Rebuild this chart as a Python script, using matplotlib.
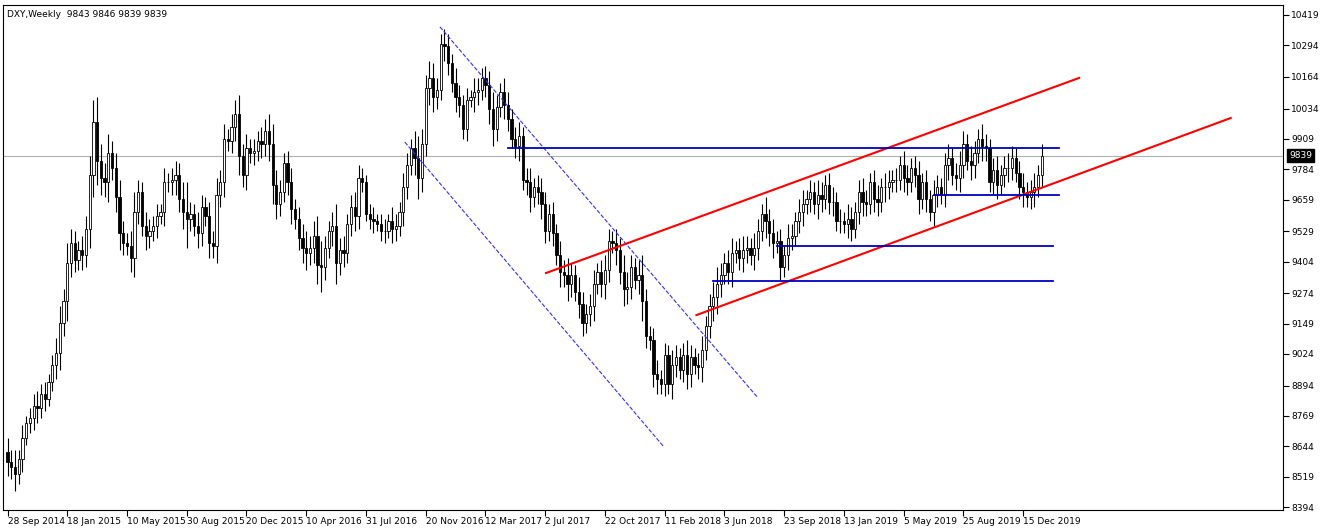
import numpy as np
import pandas as pd
import matplotlib.pyplot as plt
from matplotlib.ticker import FixedLocator, FuncFormatter

# weekly closes, DXY, starting week of 28 Sep 2014
closes = [
    85.8, 85.6, 85.3, 85.9, 86.8, 87.4, 87.6, 88.1, 88.0, 88.6, 88.4, 89.1, 89.8, 90.3,
    91.5, 92.4, 94.0, 94.8, 94.1, 94.5, 94.3, 95.4, 97.6, 99.8, 98.2, 97.5, 97.3,
    98.5, 97.9, 96.7, 95.2, 94.8, 94.7, 94.2, 96.1, 96.9, 95.5, 95.1, 95.3, 95.5,
    95.9, 96.1, 97.3, 97.3, 97.4, 97.6, 96.6, 96.1, 95.8, 96.0, 95.5, 95.2, 96.3,
    95.9, 94.8, 94.7, 96.8, 97.3, 99.1, 99.0, 99.6, 100.1, 98.4, 97.6, 98.7, 98.5,
    98.6, 99.0, 98.9, 99.4, 98.9, 97.2, 96.4, 96.9, 98.1, 97.3, 96.2, 95.8, 95.0,
    94.6, 94.4, 94.6, 95.1, 93.9, 93.8, 94.6, 95.3, 95.5, 94.0, 94.5, 94.4, 95.6,
    96.3, 95.9, 97.5, 97.3, 96.0, 95.8, 95.7, 95.6, 95.3, 95.3, 95.7, 95.4, 95.5,
    96.1, 97.1, 98.0, 98.7, 98.3, 97.5, 98.9, 101.2, 101.6, 100.8, 101.1, 103.0, 102.9,
    102.2, 101.4, 100.8, 100.5, 99.5, 100.7, 100.8, 101.0, 101.1, 101.6, 101.3, 100.3, 99.5,
    100.4, 101.0, 100.5, 99.9, 99.1, 98.8, 99.2, 97.4, 97.3, 96.7, 97.1, 96.9, 96.4,
    95.3, 96.0, 95.2, 94.3, 93.6, 93.5, 93.1, 93.5, 92.8, 92.3, 91.5, 91.9, 92.2,
    93.1, 93.6, 93.1, 93.7, 94.9, 94.8, 94.5, 93.6, 92.9, 93.0, 93.8, 93.3, 93.5,
    92.4, 91.0, 90.8, 89.4, 89.2, 89.0, 90.2, 89.0, 89.8, 90.1, 89.6, 90.2, 89.4,
    90.1, 89.8, 89.7, 90.4, 91.4, 92.2, 92.6, 93.1, 93.5, 94.0, 93.6, 94.4, 94.5,
    94.2, 94.5, 94.6, 94.3, 94.6, 95.3, 96.0, 95.7, 95.2, 94.8, 94.9, 93.8, 94.3,
    95.0, 95.1, 95.7, 96.1, 96.4, 96.6, 96.9, 96.4, 96.8, 96.6, 97.2, 96.5, 96.5,
    95.7, 95.7, 95.6, 95.8, 95.4, 96.1, 96.9, 96.5, 96.4, 97.3, 96.6, 96.5, 97.1, 97.1,
    97.3, 97.4, 97.4, 98.0, 97.5, 97.3, 97.9, 97.6, 96.6, 97.3, 96.6, 96.1,
    96.8, 97.1, 96.8, 98.0, 98.3, 97.6, 97.5, 98.0, 98.9, 98.2, 98.0, 98.5, 99.1,
    98.8, 98.7, 97.3, 97.8, 97.2, 97.6, 97.9, 97.9, 98.3, 97.7, 97.1, 96.9, 96.7,
    96.9, 97.1, 97.6, 98.39,
]
first_open = 86.2

# wick length per week, in tenths of a point
wicks = [
    6, 5, 7, 4, 5, 3, 4, 5, 6, 4, 5, 3, 4, 6, 7, 5, 8, 6, 5, 4, 6, 5, 8, 9, 10,
    7, 6, 8, 5, 6, 7, 5, 4, 6, 8, 5, 4, 6, 5, 4, 5, 3, 6, 4, 5, 6, 5, 7, 12, 5,
    4, 6, 5, 4, 6, 5, 7, 5, 6, 4, 5, 6, 8, 5, 6, 4, 5, 4, 6, 5, 7, 8, 6, 5, 4,
    5, 6, 4, 5, 6, 7, 5, 6, 8, 10, 5, 4, 6, 9, 5, 6, 4, 5, 6, 5, 4, 3, 4, 5, 3,
    4, 5, 3, 6, 5, 4, 6, 5, 4, 7, 9, 6, 5, 7, 6, 5, 4, 6, 5, 4, 6, 5, 4, 5, 3,
    6, 5, 4, 5, 6, 7, 5, 4, 6, 5, 4, 5, 6, 4, 5, 6, 4, 5, 6, 5, 4, 5, 4, 6, 5,
    7, 5, 4, 6, 5, 4, 5, 6, 4, 5, 6, 5, 4, 6, 5, 7, 6, 5, 4, 6, 8, 5, 4, 5, 6,
    4, 5, 4, 6, 5, 4, 5, 6, 5, 4, 5, 6, 4, 5, 6, 7, 5, 4, 5, 6, 4, 5, 6, 5, 4,
    6, 5, 4, 7, 5, 6, 4, 5, 4, 6, 5, 4, 5, 6, 4, 5, 4, 6, 5, 4, 5, 6, 4, 5, 4,
    6, 5, 4, 5, 6, 5, 4, 5, 6, 4, 6, 5, 4, 5, 4, 6, 5, 4, 5, 6, 4, 5, 4, 6, 5,
    4, 5, 6, 4, 5, 6, 5, 4, 6, 5, 4, 6, 5, 4, 5, 6, 4, 5, 6, 5, 4, 5, 6, 4, 5,
    6, 4, 5, 4, 2,
]

yticks = [8394, 8519, 8644, 8769, 8894, 9024, 9149, 9274, 9404, 9529, 9659,
          9784, 9909, 10034, 10164, 10294, 10419]

# trend lines: (idx0, price0, idx1, price1, colour, style, width)
trend_lines = [
    (115.8, 103.70, 201.0, 88.43, "#3030ff", "--", 0.8),
    (106.4, 98.96, 175.6, 86.45, "#3030ff", "--", 0.8),
    (184.5, 91.84, 327.6, 99.95, "red", "-", 1.5),
    (144.2, 93.57, 287.0, 101.60, "red", "-", 1.5),
]
# horizontal levels: (idx0, idx1, price)
levels = [
    (134.0, 281.5, 98.72),
    (248.0, 281.5, 96.78),
    (206.0, 280.0, 94.68),
    (189.0, 280.0, 93.24),
]
last_price = 98.39

n = len(closes)
closes = np.array(closes)
opens = np.concatenate([[first_open], closes[:-1]])
w = np.array(wicks[:n]) / 10.0
highs = np.maximum(opens, closes) + w
lows = np.minimum(opens, closes) - w
x = np.arange(n)

fig = plt.figure(figsize=(13.32, 5.3), dpi=100)
ax = fig.add_axes([0.002, 20 / 530, 1280 / 1332, 505 / 530])

ax.vlines(x, lows, highs, color="black", linewidth=0.8, zorder=2)
up = closes >= opens
bw = 0.6
ax.bar(x[up], (closes - opens)[up], bottom=opens[up], width=bw,
       facecolor="white", edgecolor="black", linewidth=0.6, zorder=3)
ax.bar(x[~up], (opens - closes)[~up], bottom=closes[~up], width=bw,
       facecolor="black", edgecolor="black", linewidth=0.6, zorder=3)

for x0, p0, x1, p1, c, ls, lw in trend_lines:
    ax.plot([x0, x1], [p0, p1], color=c, linestyle=ls, linewidth=lw, zorder=4)
for x0, x1, p in levels:
    ax.plot([x0, x1], [p, p], color="#0000c0", linewidth=1.3, zorder=4)

ax.axhline(last_price, color="#b0b0b0", linewidth=0.8, zorder=1)

ax.set_xlim(-1.3, 341.5)
ax.set_ylim(83.82, 104.6)

ax.yaxis.tick_right()
ax.yaxis.set_major_locator(FixedLocator([v / 100 for v in yticks]))
ax.yaxis.set_major_formatter(FuncFormatter(lambda v, p: f"{round(v * 100)}"))
ax.tick_params(axis="y", labelsize=6.5, length=4, pad=2)

dates = pd.date_range("2014-09-28", periods=n + 80, freq="7D")
xt = list(range(0, 280, 16))
ax.set_xticks(xt)
ax.set_xticklabels([f"{dates[i].day} {dates[i].strftime('%b %Y')}" for i in xt],
                   ha="left")
ax.tick_params(axis="x", labelsize=6.5, length=4, pad=1)

ax.text(1.005, (last_price - 83.82) / (104.6 - 83.82), "9839",
        transform=ax.transAxes, color="white", fontsize=6.5, va="center",
        ha="left", bbox=dict(facecolor="black", edgecolor="black", pad=1.5))
ax.text(0.003, 0.99, "DXY,Weekly  9843 9846 9839 9839", transform=ax.transAxes,
        fontsize=6.5, va="top", ha="left")

for s in ax.spines.values():
    s.set_linewidth(0.8)

fig.savefig("out.png", dpi=100)
